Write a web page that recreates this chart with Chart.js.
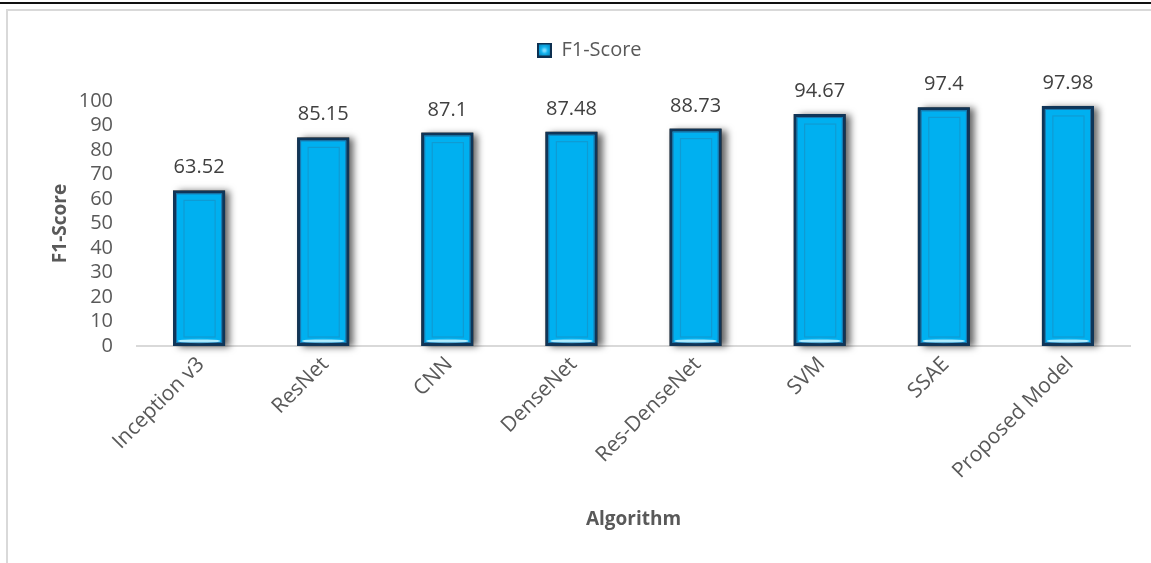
<!DOCTYPE html>
<html>
<head>
<meta charset="utf-8">
<script src="https://cdn.jsdelivr.net/npm/chart.js@4"></script>
<style>
  html, body { margin: 0; padding: 0; background: #fff; }
  body { width: 1151px; height: 563px; position: relative; overflow: hidden; }
  #rule { position: absolute; left: 0; top: 2px; width: 1151px; height: 0; border-top: 2px solid #111; }
  #frame { position: absolute; left: 6px; top: 9px; width: 1200px; height: 600px; border: 2px solid #d9d9d9; }
  #wrap { position: absolute; left: 0; top: 0; width: 1151px; height: 563px; }
</style>
</head>
<body>
<div id="rule"></div>
<div id="frame"></div>
<div id="wrap"><canvas id="f1-chart"></canvas></div>
<script>
const algorithms = ['Inception v3', 'ResNet', 'CNN', 'DenseNet', 'Res-DenseNet', 'SVM', 'SSAE', 'Proposed Model'];
const f1Scores = [63.52, 85.15, 87.1, 87.48, 88.73, 94.67, 97.4, 97.98];
const yTicks = [0, 10, 20, 30, 40, 50, 60, 70, 80, 90, 100];

const FONT = "'Open Sans', 'Noto Sans', sans-serif";
const TEXT = '#595959';

// little bevelled square for the legend
function legendSwatch() {
  const c = document.createElement('canvas');
  c.width = 15; c.height = 15;
  const g = c.getContext('2d');
  g.fillStyle = '#0d2f4f';
  g.fillRect(0, 0, 15, 15);
  const rg = g.createRadialGradient(7.5, 8, 1, 7.5, 7.5, 7);
  rg.addColorStop(0, '#7fdcff');
  rg.addColorStop(0.4, '#12b4ee');
  rg.addColorStop(1, '#0a8ac4');
  g.fillStyle = rg;
  g.fillRect(2, 2, 11, 11);
  return c;
}

// extra room under the legend before the plot starts
const legendGap = {
  id: 'legendGap',
  beforeInit(chart) {
    const legend = chart.legend;
    const fit = legend.fit;
    legend.fit = function () {
      fit.call(this);
      this.height += 31;
    };
  }
};

// drop shadow behind each bar, then bevel details and value labels on top
const barDecor = {
  id: 'barDecor',
  beforeDatasetsDraw(chart) {
    const ctx = chart.ctx;
    const meta = chart.getDatasetMeta(0);
    ctx.save();
    ctx.shadowColor = 'rgba(0,0,0,0.6)';
    ctx.shadowBlur = 7;
    ctx.shadowOffsetX = 5;
    ctx.shadowOffsetY = 1;
    ctx.fillStyle = '#333';
    meta.data.forEach(bar => {
      ctx.fillRect(bar.x - bar.width / 2, bar.y, bar.width, bar.base - bar.y);
    });
    ctx.restore();
  },
  afterDatasetsDraw(chart) {
    const ctx = chart.ctx;
    const meta = chart.getDatasetMeta(0);
    ctx.save();
    meta.data.forEach((bar, i) => {
      const l = bar.x - bar.width / 2;
      // lighter inner edge of the dark border
      ctx.strokeStyle = '#1c74aa';
      ctx.lineWidth = 1;
      ctx.strokeRect(l + 3.5, bar.y + 3.5, bar.width - 7, bar.base - bar.y - 7);
      // inner panel
      ctx.strokeStyle = '#0f9bd3';
      ctx.lineWidth = 1.2;
      ctx.strokeRect(l + 11, bar.y + 10, bar.width - 21, bar.base - bar.y - 19);
      // glint along the bottom
      const grd = ctx.createLinearGradient(0, bar.base - 7, 0, bar.base - 3);
      grd.addColorStop(0, 'rgba(200,245,255,0.2)');
      grd.addColorStop(0.5, 'rgba(225,250,255,1)');
      grd.addColorStop(1, 'rgba(120,220,255,0.4)');
      ctx.fillStyle = grd;
      ctx.beginPath();
      ctx.ellipse(bar.x, bar.base - 5, bar.width / 2 - 5, 2.2, 0, 0, Math.PI * 2);
      ctx.fill();
      // value label
      ctx.fillStyle = '#404040';
      ctx.font = '20px ' + FONT;
      ctx.textAlign = 'center';
      ctx.textBaseline = 'alphabetic';
      ctx.fillText(String(f1Scores[i]), bar.x, bar.y - 17);
    });
    ctx.restore();
  }
};

new Chart(document.getElementById('f1-chart'), {
  type: 'bar',
  data: {
    labels: algorithms,
    datasets: [{
      label: 'F1-Score',
      data: f1Scores,
      backgroundColor: '#00b0f0',
      borderColor: '#0f3558',
      borderWidth: 3,
      borderSkipped: false,
      categoryPercentage: 1,
      barPercentage: 0.42,
      pointStyle: legendSwatch()
    }]
  },
  options: {
    responsive: true,
    maintainAspectRatio: false,
    animation: false,
    layout: { padding: { left: 49, right: 21, top: 30, bottom: 32 } },
    plugins: {
      tooltip: { enabled: false },
      legend: {
        position: 'top',
        labels: {
          usePointStyle: true,
          boxWidth: 14,
          boxHeight: 14,
          color: TEXT,
          font: { family: FONT, size: 20 },
          padding: 10
        }
      }
    },
    scales: {
      x: {
        grid: { display: false, drawTicks: false },
        border: { display: true, color: '#d9d9d9', width: 2 },
        ticks: {
          color: TEXT,
          font: { family: FONT, size: 21 },
          minRotation: 45,
          maxRotation: 45,
          autoSkip: false,
          labelOffset: 2,
          padding: 6
        },
        title: {
          display: true,
          text: 'Algorithm',
          color: TEXT,
          font: { family: FONT, size: 19, weight: 'bold' },
          padding: 0
        },
        afterFit(scale) { scale.height = 185; }
      },
      y: {
        min: 0,
        max: 100,
        grid: { display: false, drawTicks: false },
        border: { display: false },
        afterBuildTicks(scale) { scale.ticks = yTicks.map(v => ({ value: v })); },
        ticks: {
          color: TEXT,
          font: { family: FONT, size: 20 },
          autoSkip: false,
          padding: 24
        },
        title: {
          display: true,
          text: 'F1-Score',
          color: TEXT,
          font: { family: FONT, size: 19, weight: 'bold' },
          padding: 0
        },
        afterFit(scale) { scale.width = 88; }
      }
    }
  },
  plugins: [legendGap, barDecor]
});
</script>
</body>
</html>
